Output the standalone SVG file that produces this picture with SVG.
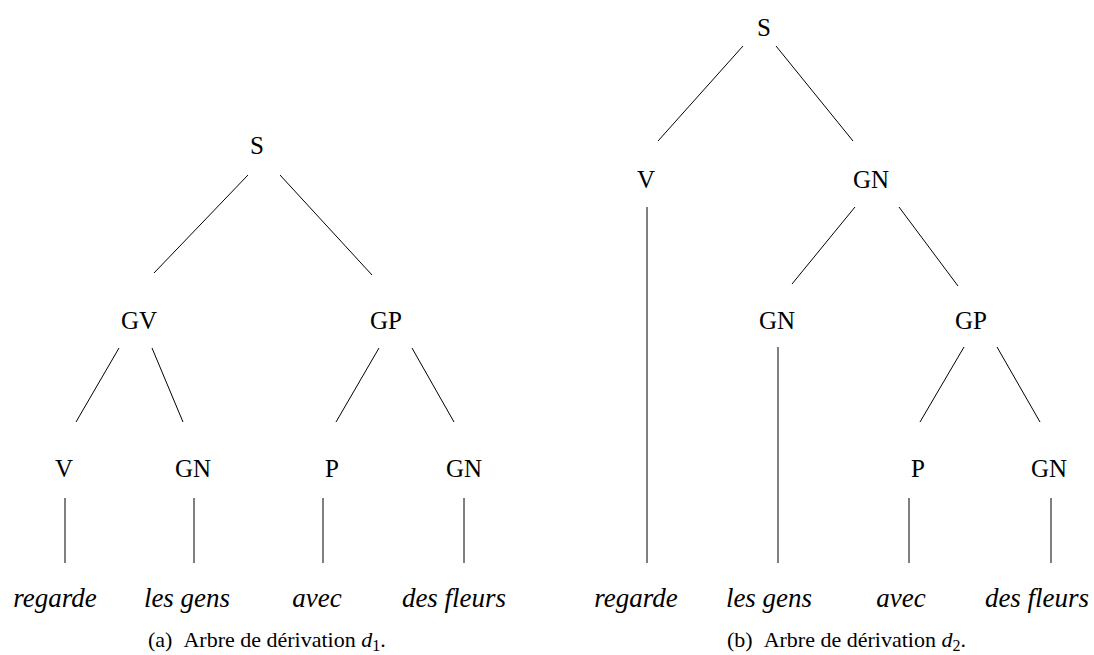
<svg xmlns="http://www.w3.org/2000/svg" width="1094" height="655" viewBox="0 0 1094 655">
<style>
text{font-family:"Liberation Serif","Times New Roman",serif;fill:#000}
.lab{font-size:25px;text-anchor:middle}
.word{font-size:27px;font-style:italic;text-anchor:middle}
.cap{font-size:22px}
.edge{stroke:#000;stroke-width:1;fill:none}
</style>
<rect width="1094" height="655" fill="#fff"/>
<g id="connectors">
<line class="edge" x1="248" y1="175" x2="154" y2="273"/>
<line class="edge" x1="280" y1="175" x2="372" y2="275"/>
<line class="edge" x1="119" y1="348" x2="76" y2="422"/>
<line class="edge" x1="152" y1="348" x2="183" y2="422"/>
<line class="edge" x1="379" y1="348" x2="336" y2="422"/>
<line class="edge" x1="412" y1="348" x2="454" y2="422"/>
<line class="edge" x1="65" y1="498" x2="65" y2="563"/>
<line class="edge" x1="194" y1="498" x2="194" y2="563"/>
<line class="edge" x1="323" y1="498" x2="323" y2="563"/>
<line class="edge" x1="464" y1="498" x2="464" y2="563"/>
<line class="edge" x1="743" y1="46" x2="658" y2="141"/>
<line class="edge" x1="776" y1="46" x2="853" y2="141"/>
<line class="edge" x1="855" y1="207" x2="792" y2="284"/>
<line class="edge" x1="899" y1="207" x2="958" y2="286"/>
<line class="edge" x1="964" y1="347" x2="920" y2="422"/>
<line class="edge" x1="997" y1="347" x2="1040" y2="422"/>
<line class="edge" x1="647" y1="207" x2="647" y2="563"/>
<line class="edge" x1="778" y1="347" x2="778" y2="563"/>
<line class="edge" x1="909" y1="498" x2="909" y2="563"/>
<line class="edge" x1="1051" y1="498" x2="1051" y2="563"/>
</g>
<g id="tree-a">
<g id="a-S"><text class="lab" x="257" y="154">S</text></g>
<g id="a-GV"><text class="lab" x="139" y="329">GV</text></g>
<g id="a-GP"><text class="lab" x="386" y="329">GP</text></g>
<g id="a-V"><text class="lab" x="64" y="477">V</text></g>
<g id="a-GN1"><text class="lab" x="193" y="477">GN</text></g>
<g id="a-P"><text class="lab" x="332" y="477">P</text></g>
<g id="a-GN2"><text class="lab" x="464" y="477">GN</text></g>
<g id="a-w1"><text class="word" x="55" y="607">regarde</text></g>
<g id="a-w2"><text class="word" x="187" y="607">les gens</text></g>
<g id="a-w3"><text class="word" x="317" y="607">avec</text></g>
<g id="a-w4"><text class="word" x="454" y="607">des fleurs</text></g>
<g id="a-caption"><text class="cap" x="148" y="647">(a)<tspan dx="11">Arbre de dérivation </tspan><tspan font-style="italic">d</tspan><tspan font-size="16" dy="4">1</tspan><tspan dy="-4">.</tspan></text></g>
</g>
<g id="tree-b">
<g id="b-S"><text class="lab" x="764" y="36">S</text></g>
<g id="b-V"><text class="lab" x="646" y="188">V</text></g>
<g id="b-GN0"><text class="lab" x="871" y="188">GN</text></g>
<g id="b-GN1"><text class="lab" x="777" y="329">GN</text></g>
<g id="b-GP"><text class="lab" x="971" y="329">GP</text></g>
<g id="b-P"><text class="lab" x="918" y="477">P</text></g>
<g id="b-GN2"><text class="lab" x="1049" y="477">GN</text></g>
<g id="b-w1"><text class="word" x="636" y="607">regarde</text></g>
<g id="b-w2"><text class="word" x="769" y="607">les gens</text></g>
<g id="b-w3"><text class="word" x="901" y="607">avec</text></g>
<g id="b-w4"><text class="word" x="1037" y="607">des fleurs</text></g>
<g id="b-caption"><text class="cap" x="727" y="647">(b)<tspan dx="11">Arbre de dérivation </tspan><tspan font-style="italic">d</tspan><tspan font-size="16" dy="4">2</tspan><tspan dy="-4">.</tspan></text></g>
</g>
</svg>
